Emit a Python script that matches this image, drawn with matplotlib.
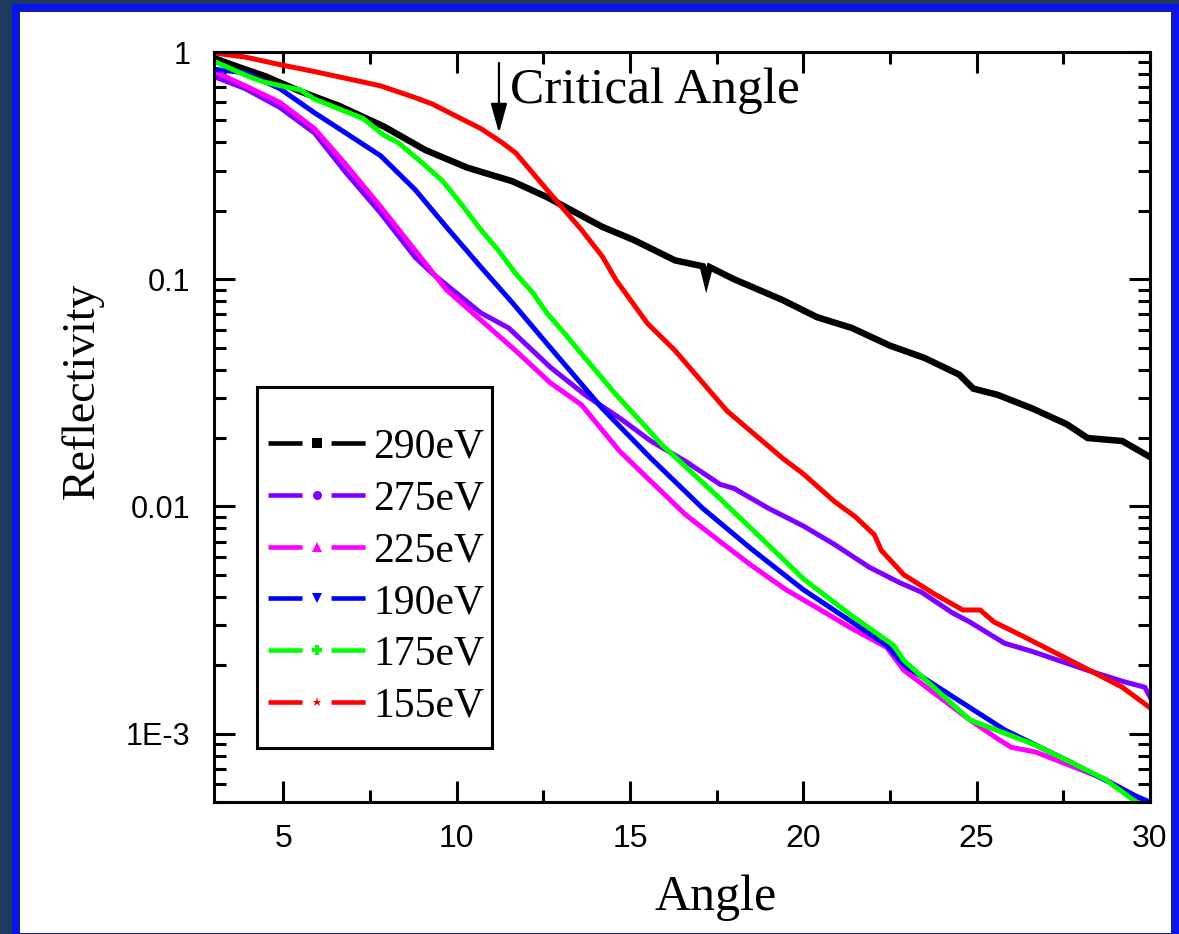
import matplotlib
matplotlib.use("Agg")
import matplotlib.pyplot as plt
from matplotlib.patches import Rectangle
from matplotlib.lines import Line2D
from matplotlib.ticker import MultipleLocator, LogLocator, NullFormatter

# ---------------- data ----------------
labels = ["290eV", "275eV", "225eV", "190eV", "175eV", "155eV"]
colors = ["#000000", "#8000ff", "#ff00ff", "#0000ff", "#00ff00", "#ff0000"]
legend_markers = ["s", "o", "^", "v", "P", "*"]

x_290 = [3.0, 3.6, 4.5, 5.5, 6.6, 7.9, 9.1, 10.3, 11.6, 12.6, 14.2, 15.1, 16.3,
         17.1, 17.2, 17.3, 18.0, 19.4, 20.4, 21.4, 22.5, 23.5, 24.5, 24.9, 25.6,
         26.6, 27.6, 28.2, 29.2, 30.0]
y_290 = [0.94, 0.87, 0.78, 0.67, 0.58, 0.47, 0.37, 0.31, 0.27, 0.23, 0.17, 0.149,
         0.121, 0.114, 0.099, 0.113, 0.100, 0.081, 0.068, 0.061, 0.051, 0.045,
         0.038, 0.033, 0.031, 0.027, 0.023, 0.020, 0.0194, 0.0165]

x_275 = [3.0, 3.9, 4.9, 5.9, 6.8, 7.8, 8.8, 9.3, 10.7, 11.5, 12.7, 13.7, 14.7,
         15.6, 16.6, 17.6, 18.0, 19.0, 20.0, 20.9, 21.9, 22.8, 23.4, 24.3, 24.8,
         25.8, 26.6, 28.2, 29.2, 29.85, 30.0]
y_275 = [0.78, 0.69, 0.57, 0.44, 0.295, 0.196, 0.125, 0.106, 0.071, 0.061, 0.041,
         0.031, 0.0245, 0.0194, 0.0158, 0.0125, 0.012, 0.0098, 0.0082, 0.0068,
         0.0054, 0.0046, 0.0042, 0.0034, 0.0031, 0.0025, 0.0023, 0.0019, 0.0017,
         0.0016, 0.00145]

x_225 = [3.0, 3.9, 4.9, 5.9, 6.8, 7.8, 8.8, 9.7, 10.7, 11.7, 12.7, 13.6, 14.7,
         15.6, 16.6, 17.6, 18.5, 19.5, 20.5, 21.4, 22.4, 22.9, 24.8, 25.6, 26.0,
         26.7, 28.7, 30.0]
y_225 = [0.82, 0.71, 0.60, 0.46, 0.32, 0.209, 0.134, 0.090, 0.066, 0.0485, 0.035,
         0.028, 0.0175, 0.0129, 0.0092, 0.0070, 0.0055, 0.0043, 0.0035, 0.0029,
         0.0024, 0.0019, 0.00115, 0.00095, 0.00087, 0.00083, 0.00063, 0.00049]

x_190 = [3.0, 3.9, 4.9, 5.9, 6.8, 7.8, 8.8, 9.7, 10.7, 11.6, 12.7, 14.2, 15.6,
         17.1, 18.5, 20.0, 21.4, 22.4, 22.9, 25.8, 27.7, 29.6, 30.0]
y_190 = [0.84, 0.81, 0.69, 0.54, 0.44, 0.35, 0.248, 0.17, 0.113, 0.079, 0.050,
         0.027, 0.0163, 0.0098, 0.0065, 0.0043, 0.0031, 0.00245, 0.0020, 0.00104,
         0.00075, 0.00053, 0.00050]

x_175 = [3.0, 4.0, 4.4, 5.5, 5.9, 7.3, 7.9, 8.3, 9.0, 9.6, 10.1, 10.7, 11.2, 11.7,
         12.2, 12.6, 13.1, 13.6, 14.6, 15.5, 15.9, 17.6, 19.5, 20.0, 21.4, 22.6,
         22.9, 24.8, 26.7, 28.7, 29.6, 30.0]
y_175 = [0.91, 0.78, 0.74, 0.68, 0.62, 0.51, 0.43, 0.40, 0.326, 0.27, 0.217, 0.165,
         0.134, 0.106, 0.087, 0.071, 0.058, 0.047, 0.031, 0.022, 0.0188, 0.0108,
         0.0057, 0.0048, 0.0033, 0.00245, 0.0021, 0.00115, 0.00089, 0.00063,
         0.00050, 0.00047]

x_155 = [3.0, 3.9, 4.9, 5.9, 7.8, 8.8, 9.3, 9.9, 10.7, 11.3, 11.7, 12.6, 13.6,
         14.2, 14.6, 15.5, 16.3, 17.8, 19.4, 20.0, 20.9, 21.5, 22.05, 22.25, 22.9,
         23.8, 24.6, 25.1, 25.5, 26.3, 27.7, 29.2, 30.0]
y_155 = [0.99, 0.95, 0.88, 0.82, 0.71, 0.63, 0.59, 0.53, 0.46, 0.40, 0.36, 0.248,
         0.165, 0.126, 0.099, 0.064, 0.0485, 0.0263, 0.0163, 0.0139, 0.0105,
         0.0090, 0.0075, 0.0064, 0.0050, 0.0041, 0.0035, 0.0035, 0.0031, 0.0027,
         0.0021, 0.0016, 0.0013]

xs = [x_290, x_275, x_225, x_190, x_175, x_155]
ys = [y_290, y_275, y_225, y_190, y_175, y_155]

x_ticks = [5, 10, 15, 20, 25, 30]
y_ticks = [1e-3, 1e-2, 1e-1, 1]
y_ticklabels = ["1E-3", "0.01", "0.1", "1"]

# ---------------- figure ----------------
W, H = 1179, 934
fig = plt.figure(figsize=(W / 100, H / 100), dpi=100)
fig.patch.set_facecolor("#1d3a5e")


def px_rect(x0, y0, x1, y1, **kw):
    return Rectangle((x0 / W, 1 - y1 / H), (x1 - x0) / W, (y1 - y0) / H,
                     transform=fig.transFigure, **kw)


fig.add_artist(px_rect(12, 4, W + 5, H + 5, facecolor="#0a14f0", edgecolor="none", zorder=0))
fig.add_artist(px_rect(18, 10, W - 6, H + 5, facecolor="#1020a0", edgecolor="none", zorder=0))
fig.add_artist(px_rect(20, 12, W - 8, H - 1, facecolor="white", edgecolor="none", zorder=0))

ax = fig.add_axes([214 / W, 1 - 802 / H, (1150 - 214) / W, (802 - 52) / H])
ax.set_facecolor("white")

lws_px = [6.5, 5.0, 5.0, 5.0, 5.0, 5.0]
for x, y, c, lab, lw in zip(xs, ys, colors, labels, lws_px):
    ax.plot(x, y, color=c, lw=lw * 0.72, solid_joinstyle="miter", label=lab)

ax.set_yscale("log")
ax.set_xlim(3, 30)
ax.set_ylim(5e-4, 1.0)

ax.set_xticks(x_ticks)
ax.set_xticklabels([str(t) for t in x_ticks])
ax.xaxis.set_minor_locator(MultipleLocator(2.5))
ax.set_yticks(y_ticks)
ax.set_yticklabels(y_ticklabels)
ax.yaxis.set_minor_locator(LogLocator(base=10, subs=[2, 3, 4, 5, 6, 7, 8, 9]))
ax.yaxis.set_minor_formatter(NullFormatter())

for s in ax.spines.values():
    s.set_linewidth(2.2)
ax.tick_params(which="both", direction="in", top=True, right=True, width=2.2)
ax.tick_params(which="major", length=15)
ax.tick_params(which="minor", length=8.5)
ax.tick_params(axis="x", which="major", labelsize=23, pad=16)
ax.tick_params(axis="y", which="major", labelsize=22, pad=17)
for t in ax.get_xticklabels() + ax.get_yticklabels():
    t.set_fontfamily(["Liberation Sans", "DejaVu Sans"])

serif = ["Liberation Serif", "DejaVu Serif"]
ax.set_ylabel("Reflectivity", fontsize=33, family=serif, va="center")
ax.yaxis.set_label_coords(-0.141, 0.548)
ax.set_xlabel("Angle", fontsize=36, family=serif, va="baseline")
ax.xaxis.set_label_coords(0.536, -0.144)

# critical angle annotation
ax.annotate("", xy=(11.22, 0.44), xytext=(11.22, 0.895),
            arrowprops=dict(arrowstyle="-|>,head_length=1.8,head_width=0.5",
                            mutation_scale=10, lw=1.6, color="black",
                            shrinkA=0, shrinkB=0))
ax.text(11.54, 0.596, "Critical Angle", fontsize=37, family=serif,
        ha="left", va="baseline")

# legend
plt.rcParams["lines.scale_dashes"] = False
handles = [Line2D([], [], color=c, lw=3.3, linestyle=(0, (24.5, 20.9)),
                  marker=m, markersize=6.5, markeredgewidth=0)
           for c, m in zip(colors, legend_markers)]
leg = ax.legend(handles, labels, loc="upper left",
                bbox_to_anchor=((268 - 214) / 936, (802 - 428) / 750),
                frameon=False, borderpad=0, borderaxespad=0,
                handlelength=2.35, handletextpad=0.17, labelspacing=0.32,
                numpoints=1, prop={"family": serif, "size": 30})
ax.add_patch(Rectangle(((257 - 214) / 936, (802 - 748) / 750),
                       (492 - 257) / 936, (748 - 387) / 750,
                       transform=ax.transAxes, facecolor="none",
                       edgecolor="black", lw=2.2, zorder=5))

fig.savefig("out.png", dpi=100, facecolor=fig.get_facecolor())
